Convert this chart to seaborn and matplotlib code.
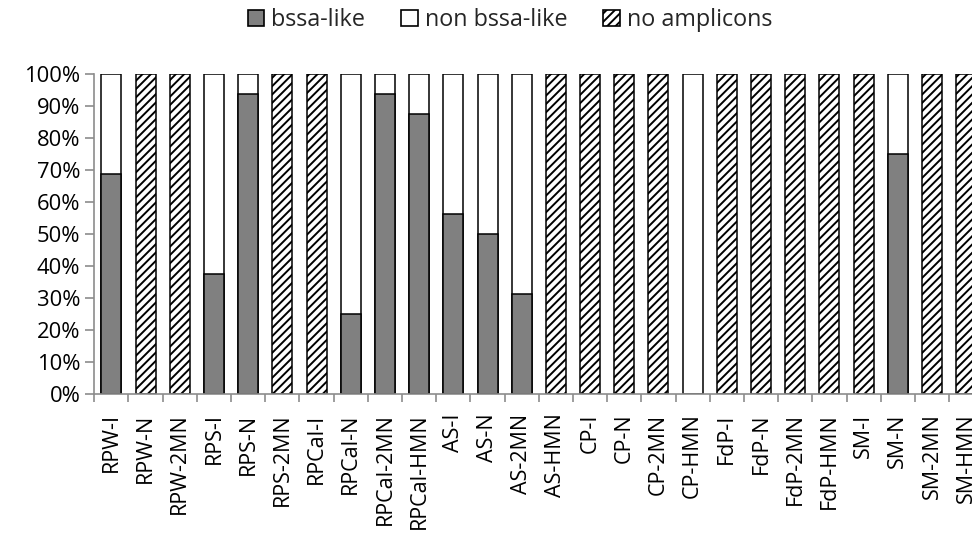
import matplotlib
matplotlib.use("Agg")
import matplotlib.pyplot as plt
from matplotlib.patches import Patch
from matplotlib.ticker import FixedLocator, FuncFormatter
import seaborn as sns

categories = [
    "RPW-I", "RPW-N", "RPW-2MN", "RPS-I", "RPS-N", "RPS-2MN", "RPCal-I",
    "RPCal-N", "RPCal-2MN", "RPCal-HMN", "AS-I", "AS-N", "AS-2MN", "AS-HMN",
    "CP-I", "CP-N", "CP-2MN", "CP-HMN", "FdP-I", "FdP-N", "FdP-2MN",
    "FdP-HMN", "SM-I", "SM-N", "SM-2MN", "SM-HMN",
]
bssa_like = [68.75, 0, 0, 37.5, 93.75, 0, 0, 25, 93.75, 87.5, 56.25, 50, 31.25,
             0, 0, 0, 0, 0, 0, 0, 0, 0, 0, 75, 0, 0]
non_bssa_like = [31.25, 0, 0, 62.5, 6.25, 0, 0, 75, 6.25, 12.5, 43.75, 50, 68.75,
                 0, 0, 0, 0, 100, 0, 0, 0, 0, 0, 25, 0, 0]
no_amplicons = [0, 100, 100, 0, 0, 100, 100, 0, 0, 0, 0, 0, 0,
                100, 100, 100, 100, 0, 100, 100, 100, 100, 100, 0, 100, 100]
series_labels = ["bssa-like", "non bssa-like", "no amplicons"]

sns.set_theme(style="white")
plt.rcParams["font.family"] = ["Open Sans", "DejaVu Sans"]
plt.rcParams["hatch.linewidth"] = 1.4
plt.rcParams["hatch.color"] = "black"

FS = 15.8
AXIS_GREY = "#8c8c8c"
BAR_GREY = "#808080"

fig = plt.figure(figsize=(9.72, 5.39), dpi=100)
ax = fig.add_axes([94.3 / 972, 1 - 394 / 539, 889 / 972, 320 / 539])

common = dict(order=categories, width=0.585, edgecolor="black", linewidth=1.1,
              saturation=1, ax=ax)

# stacked layers: totals first, then the lower segment drawn over them
stack_top = [b + n for b, n in zip(bssa_like, non_bssa_like)]
sns.barplot(x=categories, y=no_amplicons, color="white", hatch="////", **common)
sns.barplot(x=categories, y=stack_top, color="white", **common)
sns.barplot(x=categories, y=bssa_like, color=BAR_GREY, **common)

for p in ax.patches:
    if p.get_height() == 0:
        p.set_visible(False)

ax.set_xlim(-0.5, len(categories) - 0.5)
ax.set_ylim(0, 100)
ax.set_yticks(range(0, 101, 10))
ax.yaxis.set_major_formatter(FuncFormatter(lambda v, _: f"{int(v)}%"))
ax.set_xlabel("")
ax.set_ylabel("")

ax.set_xticks(range(len(categories)))
ax.set_xticklabels(categories, rotation=90, fontsize=FS - 0.3, color="black")
ax.xaxis.set_minor_locator(FixedLocator([i - 0.5 for i in range(len(categories) + 1)]))
ax.tick_params(axis="x", which="major", length=0, pad=14)
ax.tick_params(axis="x", which="minor", length=6, width=1.2, color=AXIS_GREY,
               direction="out", bottom=True)
ax.tick_params(axis="y", which="major", length=6.5, width=1.2, color=AXIS_GREY,
               direction="out", labelsize=FS, labelcolor="black", pad=3.5, left=True)

for side in ("top", "right"):
    ax.spines[side].set_visible(False)
for side in ("left", "bottom"):
    ax.spines[side].set_color(AXIS_GREY)
    ax.spines[side].set_linewidth(1.2)
ax.grid(False)

handles = [
    Patch(facecolor=BAR_GREY, edgecolor="black", linewidth=1.2),
    Patch(facecolor="white", edgecolor="black", linewidth=1.2),
    Patch(facecolor="white", edgecolor="black", linewidth=1.2, hatch="////"),
]
fig.legend(handles, series_labels, loc="center", bbox_to_anchor=(510 / 972, 1 - 20 / 539),
           ncol=3, frameon=False, fontsize=16.8, handlelength=0.7, handleheight=0.7,
           handletextpad=0.3, columnspacing=1.55, borderaxespad=0, borderpad=0)

fig.savefig("out.png", dpi=100)
